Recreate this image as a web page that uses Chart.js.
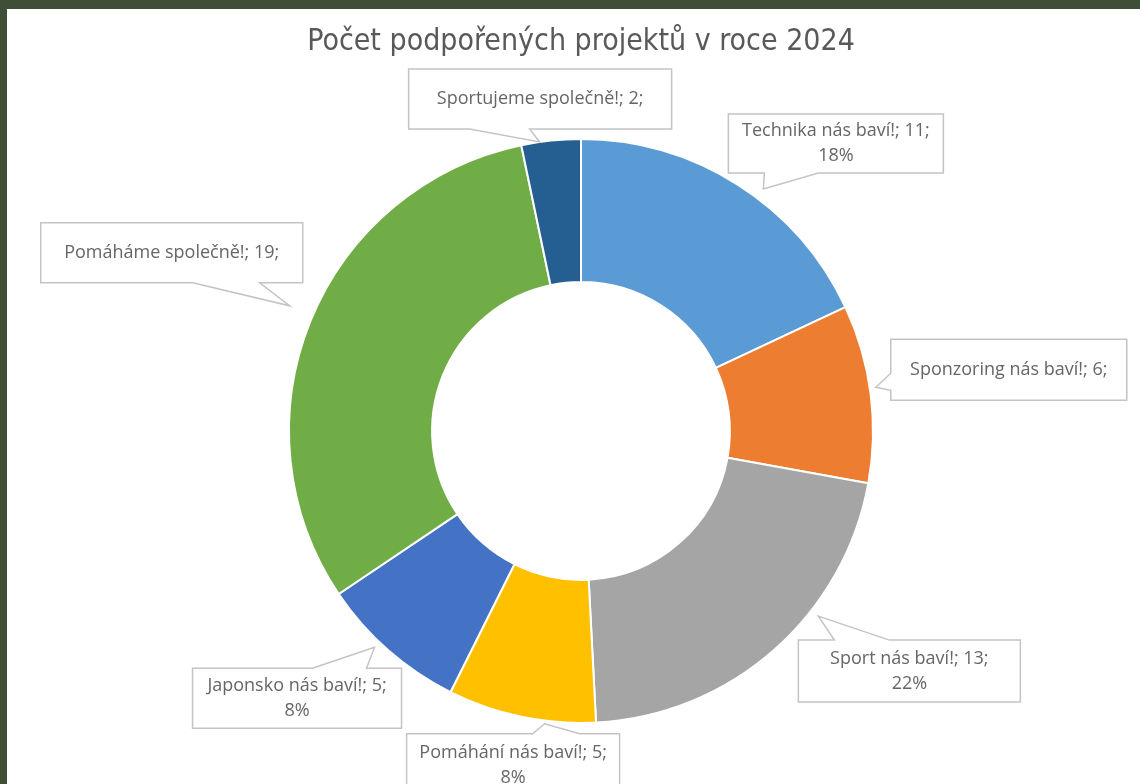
<!DOCTYPE html>
<html>
<head>
<meta charset="utf-8">
<script src="https://cdn.jsdelivr.net/npm/chart.js@4.4.1/dist/chart.umd.min.js"></script>
<style>
  html, body { margin: 0; padding: 0; background: #3e4e37; overflow: hidden; }
  #wrap { position: absolute; left: 7px; top: 9px; width: 1133px; height: 775px; background: #fff; overflow: hidden; }
  canvas { display: block; }
</style>
</head>
<body>
<div id="wrap"><canvas id="chart"></canvas></div>
<script>
// data
const categories = ['Technika nás baví!', 'Sponzoring nás baví!', 'Sport nás baví!', 'Pomáhání nás baví!', 'Japonsko nás baví!', 'Pomáháme společně!', 'Sportujeme společně!'];
const projectCounts = [11, 6, 13, 5, 5, 19, 2];
const percentLabels = ['18%', null, '22%', '8%', '8%', null, null];
const sliceColors = ['#5B9BD5', '#ED7D31', '#A5A5A5', '#FFC000', '#4472C4', '#70AD47', '#255E91'];

// callout placement: where on the arc the pointer ends (at = fraction of the slice, gap = px outside),
// box offset from the pointer tip, box size, and which edge the pointer leaves from
const callouts = [
    { at: 0.57, gap: 11, dx: -35, dy: -75, w: 215, h: 59, side: 'bottom', b0: 36, b1: 90 },
    { at: 0.47, gap: 6, dx: 15, dy: -48, w: 236, h: 61, side: 'left', b0: 34, b1: 51 },
    { at: 0.36, gap: 9, dx: -20, dy: 24, w: 222, h: 62, side: 'top', b0: 36, b1: 91 },
    { at: 0.34, gap: 3, dx: -138, dy: 10, w: 213, h: 63, side: 'top', b0: 126, b1: 173 },
    { at: 0.58, gap: 7, dx: -182, dy: 21, w: 209, h: 60, side: 'top', b0: 120, b1: 174 },
    { at: 0.51, gap: 25, dx: -249, dy: -83, w: 262, h: 60, side: 'bottom', b0: 152, b1: 219 },
    { at: 0.31, gap: 0, dx: -131, dy: -73, w: 263, h: 60, side: 'bottom', b0: 61, b1: 121 }
];

const calloutPlugin = {
    id: 'callouts',
    afterDatasetsDraw(chart) {
        const ctx = chart.ctx;
        const meta = chart.getDatasetMeta(0);
        meta.data.forEach((arc, i) => {
            const c = callouts[i];
            const { x, y, startAngle, endAngle, outerRadius } = arc.getProps(['x', 'y', 'startAngle', 'endAngle', 'outerRadius'], true);
            const a = startAngle + (endAngle - startAngle) * c.at;
            const r = outerRadius + c.gap;
            const tx = x + Math.cos(a) * r;
            const ty = y + Math.sin(a) * r;
            const L = tx + c.dx, T = ty + c.dy, R = L + c.w, B = T + c.h;

            ctx.save();
            ctx.beginPath();
            ctx.moveTo(L, T);
            if (c.side === 'top') { ctx.lineTo(L + c.b0, T); ctx.lineTo(tx, ty); ctx.lineTo(L + c.b1, T); }
            ctx.lineTo(R, T);
            ctx.lineTo(R, B);
            if (c.side === 'bottom') { ctx.lineTo(L + c.b1, B); ctx.lineTo(tx, ty); ctx.lineTo(L + c.b0, B); }
            ctx.lineTo(L, B);
            if (c.side === 'left') { ctx.lineTo(L, T + c.b1); ctx.lineTo(tx, ty); ctx.lineTo(L, T + c.b0); }
            ctx.closePath();
            ctx.fillStyle = '#ffffff';
            ctx.fill();
            ctx.lineWidth = 1.5;
            ctx.strokeStyle = '#c4c4c4';
            ctx.stroke();

            const lines = [categories[i] + '; ' + projectCounts[i] + ';'];
            if (percentLabels[i]) lines.push(percentLabels[i]);
            ctx.font = '18px "Open Sans", Lato, sans-serif';
            ctx.fillStyle = '#666666';
            ctx.textAlign = 'center';
            ctx.textBaseline = 'middle';
            const lh = 25;
            const cy = (T + B) / 2 - (lines.length - 1) * lh / 2;
            lines.forEach((t, k) => ctx.fillText(t, (L + R) / 2, cy + k * lh));
            ctx.restore();
        });
    }
};

new Chart(document.getElementById('chart'), {
    type: 'doughnut',
    data: {
        labels: categories,
        datasets: [{
            data: projectCounts,
            backgroundColor: sliceColors,
            borderColor: '#ffffff',
            borderWidth: 2,
            radius: 292
        }]
    },
    options: {
        responsive: true,
        maintainAspectRatio: false,
        animation: false,
        cutout: '51%',
        layout: { padding: { left: 15, right: 0, top: 0, bottom: 62 } },
        plugins: {
            legend: { display: false },
            tooltip: { enabled: false },
            title: {
                display: true,
                text: 'Počet podpořených projektů v roce 2024',
                color: '#595959',
                font: { family: '"Liberation Sans Narrow", "DejaVu Sans Condensed", sans-serif', size: 30, weight: 'normal' },
                padding: { top: 15, bottom: 80 }
            }
        }
    },
    plugins: [calloutPlugin]
});
</script>
</body>
</html>
